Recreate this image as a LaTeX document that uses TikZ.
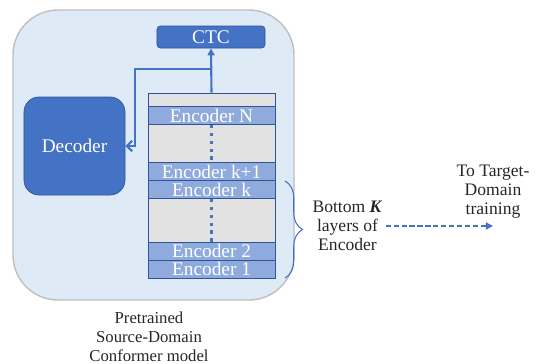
\documentclass[tikz,border=0pt]{standalone}
\usepackage{fontspec}
\setmainfont{Liberation Serif}
\usetikzlibrary{positioning,arrows.meta,decorations.pathreplacing}
\definecolor{panelfill}{HTML}{DEEAF6}
\definecolor{panelline}{HTML}{BFBFBF}
\definecolor{darkblue}{HTML}{4472C4}
\definecolor{edgeblue}{HTML}{2F5597}
\definecolor{layerblue}{HTML}{8FAADC}
\definecolor{stackgray}{HTML}{E2E2E2}
\definecolor{textgray}{HTML}{262626}

\begin{document}
\begin{tikzpicture}[scale=0.2]
            \tikzstyle{every node}+=[inner sep=0pt]
            \tikzstyle{block}=[draw=edgeblue, fill=darkblue, text=white, font=\fontsize{11}{12}\selectfont]
            \tikzstyle{layer}=[draw=edgeblue, fill=layerblue, text=white, minimum width=2.54cm, minimum height=0.36cm, font=\fontsize{11}{12}\selectfont]
            \tikzstyle{flow}=[darkblue, line width=1.2pt]
            \tikzstyle{dots}=[darkblue, line width=2pt, dash pattern=on 2pt off 2.5pt]
            \tikzstyle{note}=[text=textgray, align=center, font=\fontsize{10}{10.8}\selectfont]
            \useasboundingbox (0,0) rectangle (54,-36.4);
            \draw [panelline, fill=panelfill, rounded corners=0.9cm, line width=0.8pt] (1.3,-1.0) rectangle (29.4,-30.0);
            \node [block, rounded corners=2pt, minimum width=2.16cm, minimum height=0.44cm] (ctc) at (21.1,-3.7) {CTC};
            \node [block, rounded corners=0.3cm, minimum width=2.02cm, minimum height=1.96cm] (dec) at (7.45,-14.6) {Decoder};
            \node [draw=edgeblue, fill=stackgray, minimum width=2.54cm, minimum height=3.7cm] (stack) at (21.15,-18.55) {};
            \node [layer] (encN) at (21.15,-11.55) {Encoder N};
            \node [layer] (enckk) at (21.15,-17.15) {Encoder k+1};
            \node [layer] (enck) at (21.15,-18.95) {Encoder k};
            \node [layer] (enc2) at (21.15,-25.1) {Encoder 2};
            \node [layer] (enc1) at (21.15,-26.9) {Encoder 1};
            \draw [dots] (encN.south) -- (enckk.north);
            \draw [dots] (enck.south) -- (enc2.north);
            \coordinate (split) at (21.15,-6.9);
            \coordinate (corner) at (13.5,-6.9);
            \draw [flow, -{Triangle[length=4pt,width=4pt]}] (stack.north) -- (ctc.south);
            \draw [flow, -{Straight Barb[length=3pt,width=6pt]}] (split) -- (corner) |- (dec.east);
            \draw [darkblue, line width=0.6pt, decorate, decoration={brace, amplitude=0.35cm}] (28.5,-18.1) -- (28.5,-27.8);
            \node [note] (bottomk) at (34.75,-22.6) {Bottom \textbf{\textit{K}}\\layers of\\Encoder};
            \node [note] (target) at (49.3,-19.2) {To Target-\\Domain\\training};
            \draw [darkblue, line width=0.8pt, dash pattern=on 3pt off 1.5pt, -{Triangle[length=4pt,width=4pt]}] ([xshift=0.3cm]bottomk.east) -- (target.south |- bottomk.east);
            \node [note, font=\fontsize{9.5}{10.8}\selectfont] (title) at (14.9,-33.7) {Pretrained\\Source-Domain\\Conformer model};
\end{tikzpicture}
\end{document}
